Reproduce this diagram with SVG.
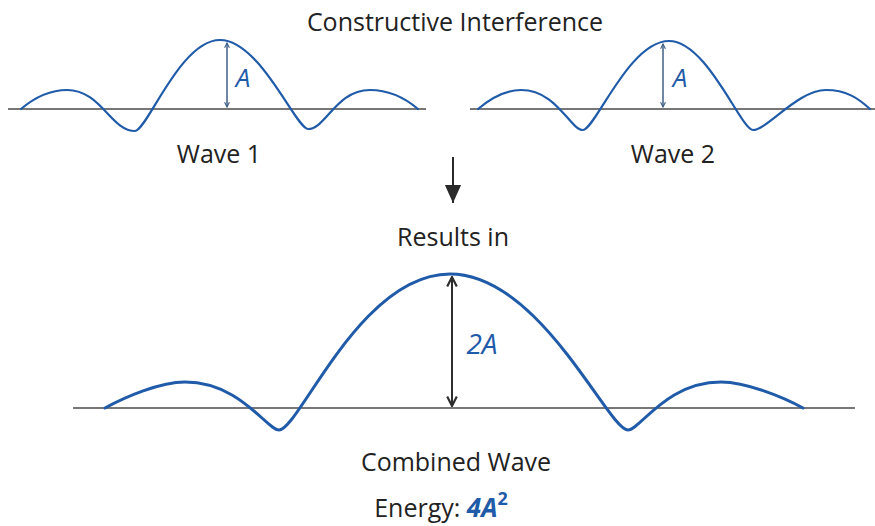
<svg xmlns="http://www.w3.org/2000/svg" width="875" height="526" viewBox="0 0 875 526">
<defs>
<style>
.t{font-family:"Open Sans","Noto Sans","Liberation Sans",sans-serif;fill:#222222;text-anchor:middle;font-size:25px}
.base{stroke:#4a4a4a;stroke-width:1.6;fill:none}
.wave{stroke:#1f5ba8;stroke-width:2.2;fill:none;stroke-linecap:round;stroke-linejoin:round}
.wavebig{stroke:#1f5ba8;stroke-width:3;fill:none;stroke-linecap:round;stroke-linejoin:round}
.amp{stroke:#3f5f86;stroke-width:1.5;fill:none}
.ampbig{stroke:#2e2e2e;stroke-width:2;fill:none}
.lab{font-family:"Open Sans","Noto Sans","Liberation Sans",sans-serif;fill:#1f5ba8;font-style:italic;text-anchor:middle}
</style>
<marker id="hs" viewBox="0 0 10 10" refX="9" refY="5" markerWidth="6" markerHeight="6" markerUnits="userSpaceOnUse" orient="auto-start-reverse">
<path d="M1,1 L9,5 L1,9" fill="none" stroke="#3f5f86" stroke-width="1.8"/>
</marker>
<marker id="hb" viewBox="0 0 10 10" refX="9" refY="5" markerWidth="12" markerHeight="12" markerUnits="userSpaceOnUse" orient="auto-start-reverse">
<path d="M1,1 L9,5 L1,9" fill="none" stroke="#2e2e2e" stroke-width="1.8"/>
</marker>
<marker id="hd" viewBox="0 0 10 10" refX="10" refY="5" markerWidth="18" markerHeight="18" markerUnits="userSpaceOnUse" orient="auto">
<path d="M0,0.5 L10,5 L0,9.5 Z" fill="#2a2a2a"/>
</marker>
</defs>
<rect width="875" height="526" fill="#ffffff"/>

<text id="title" class="t" x="455" y="31">Constructive Interference</text>

<g id="wave1">
<line class="base" x1="8" y1="109" x2="426" y2="109"/>
<path class="wave" d="M21,109 C34,98 49,90 67,90 C101,90 111,131 135,131 C147,131 180,40 220,40 C260,40 296,129 308,129 C326,129 336,90 370,90 C390,90 405,98 418,109"/>
<line class="amp" x1="227" y1="43" x2="227" y2="107" marker-start="url(#hs)" marker-end="url(#hs)"/>
<text class="lab" x="243" y="87" font-size="26">A</text>
<text class="t" x="219" y="163">Wave 1</text>
</g>

<g id="wave2">
<line class="base" x1="470" y1="109" x2="875" y2="109"/>
<path class="wave" d="M478,109 C491,98 505,90 521,90 C557,90 570,130 583,130 C595,130 629,41 669,41 C707,41 741,130 753,130 C767,130 798,90 826,90 C846,90 858,98 870,109"/>
<line class="amp" x1="663" y1="44" x2="663" y2="107" marker-start="url(#hs)" marker-end="url(#hs)"/>
<text class="lab" x="680" y="87" font-size="26">A</text>
<text class="t" x="673" y="163">Wave 2</text>
</g>

<g id="connectors">
<line x1="453" y1="157" x2="453" y2="203" stroke="#2a2a2a" stroke-width="2" marker-end="url(#hd)"/>
</g>

<text id="results" class="t" x="453" y="246">Results in</text>

<g id="combined">
<line class="base" x1="73" y1="408" x2="855" y2="408"/>
<path class="wavebig" d="M105,408 C125,397 160,382 185,382 C240,382 267,430 279,430 C299,430 360,274 450,274 C540,274 608,430 628,430 C640,430 666,382 721,382 C746,382 783,397 803,408"/>
<line class="ampbig" x1="452" y1="277" x2="452" y2="406" marker-start="url(#hb)" marker-end="url(#hb)"/>
<text class="lab" x="482" y="354" font-size="28">2A</text>
<text class="t" x="456" y="471">Combined Wave</text>
<text class="t" x="441" y="517">Energy: <tspan fill="#1f5ba8" font-weight="bold" font-style="italic" font-size="26">4A</tspan><tspan fill="#1f5ba8" font-weight="bold" font-size="18" dy="-12">2</tspan></text>
</g>
</svg>
